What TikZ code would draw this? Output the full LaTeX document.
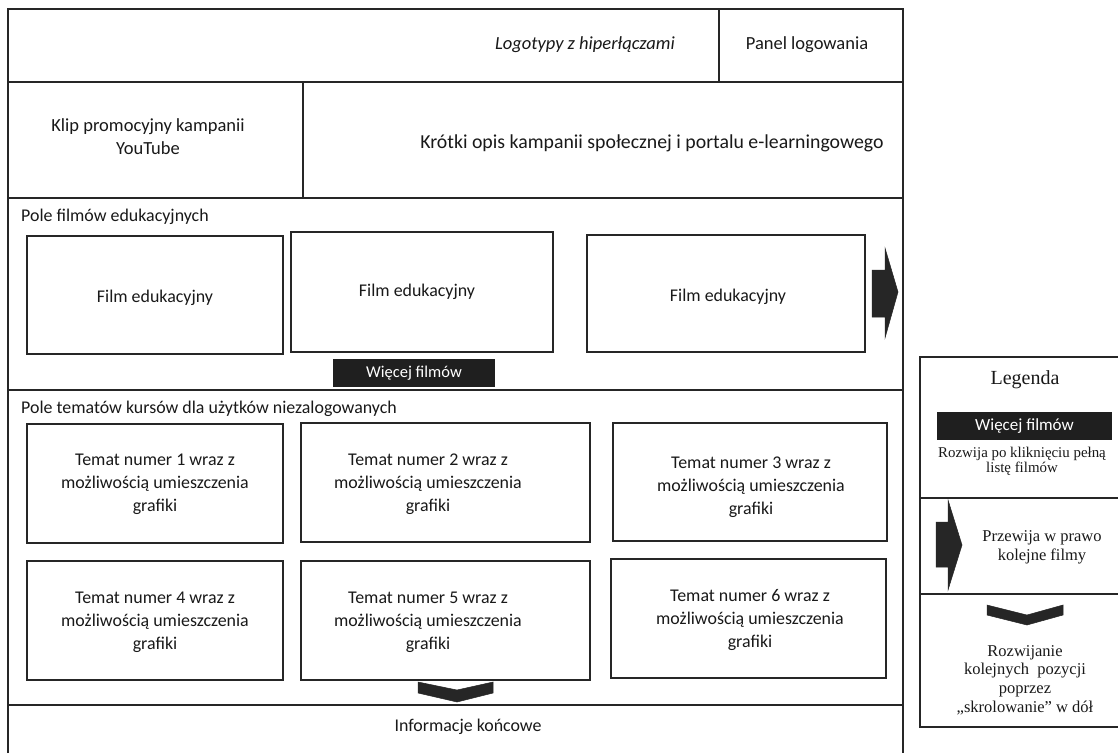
\documentclass[tikz,border=0pt]{standalone}
\usepackage{fontspec}
\setmainfont{Carlito}
\newfontfamily\legfont{Liberation Serif}
\begin{document}
\begin{tikzpicture}[x=1pt,y=-1pt,
  ln/.style={draw=black!85, line width=1.1pt},
  box/.style={draw=black!85, line width=1.1pt, inner sep=0pt},
  txt/.style={font=\fontsize{17.9}{23}\selectfont, align=center, inner sep=0pt, text=black!90},
  btn/.style={fill=black!88, text=white, inner sep=0pt, font=\fontsize{16.5}{18}\selectfont},
  shp/.style={fill=black!85, draw=black!85, line width=0.5pt, line join=miter},
  leg/.style={font=\legfont\fontsize{16}{19}\selectfont, align=center, inner sep=0pt, text=black!90}]
\useasboundingbox (0,0) rectangle (1118,753);
\fill[white] (0,0) rectangle (1118,753);
% main frame
\draw[ln] (8,753) -- (8,9) -- (903,9) -- (903,753);
\draw[ln] (8,82) -- (903,82);
\draw[ln] (8,198) -- (903,198);
\draw[ln] (8,390) -- (903,390);
\draw[ln] (8,705) -- (903,705);
\draw[ln] (719,9) -- (719,82);
\draw[ln] (303,82) -- (303,198);
% header texts
\node[txt, font=\fontsize{18.5}{23}\selectfont\itshape] (logo) at (585,45) {Logotypy z hiperłączami};
\node[txt, font=\fontsize{18.5}{23}\selectfont] (panel) at (807,45) {Panel logowania};
\node[txt, font=\fontsize{18.5}{23}\selectfont] (klip) at (148,137) {Klip promocyjny kampanii\\YouTube};
\node[txt, font=\fontsize{19.8}{23}\selectfont] (opis) at (652,143) {Krótki opis kampanii społecznej i portalu e-learningowego};
% films
\node[txt, anchor=west] (polef) at (21,217) {Pole filmów edukacyjnych};
\node[box, minimum width=256, minimum height=118] (f1) at (155,295) {};
\node[box, minimum width=262, minimum height=120] (f2) at (422,292) {};
\node[box, minimum width=278, minimum height=117] (f3) at (726,293.5) {};
\node[txt] (f1t) at (155,298) {Film edukacyjny};
\node[txt] (f2t) at (417,292) {Film edukacyjny};
\node[txt] (f3t) at (728,297) {Film edukacyjny};
\fill[shp] (872,270) -- (885,270) -- (885,248) -- (898,292) -- (885,338) -- (885,317) -- (872,317) -- cycle;
\node[btn, minimum width=162, minimum height=28] (more) at (414,373) {Więcej filmów};
% topics
\node[txt, anchor=west] (polet) at (21,409) {Pole tematów kursów dla użytków niezalogowanych};
\node[box, minimum width=256, minimum height=119] (t1) at (155,483.5) {};
\node[box, minimum width=289, minimum height=119] (t2) at (445.5,482.5) {};
\node[box, minimum width=274, minimum height=118] (t3) at (750,482) {};
\node[box, minimum width=256, minimum height=119] (t4) at (155,620.5) {};
\node[box, minimum width=289, minimum height=119] (t5) at (445.5,620.5) {};
\node[box, minimum width=275, minimum height=119] (t6) at (748.5,618.5) {};
\node[txt] (t1t) at (155,484.5) {Temat numer 1 wraz z\\możliwością umieszczenia\\grafiki};
\node[txt] (t2t) at (428,484.5) {Temat numer 2 wraz z\\możliwością umieszczenia\\grafiki};
\node[txt] (t3t) at (751,487) {Temat numer 3 wraz z\\możliwością umieszczenia\\grafiki};
\node[txt] (t4t) at (155,622) {Temat numer 4 wraz z\\możliwością umieszczenia\\grafiki};
\node[txt] (t5t) at (428,622) {Temat numer 5 wraz z\\możliwością umieszczenia\\grafiki};
\node[txt] (t6t) at (750,620) {Temat numer 6 wraz z\\możliwością umieszczenia\\grafiki};
\fill[shp] (418,682) -- (457,690) -- (493,682) -- (493,693) -- (457,702) -- (418,693) -- cycle;
\node[txt] (info) at (468,727) {Informacje końcowe};
% legend
\draw[ln] (1120,357) -- (920,357) -- (920,727) -- (1120,727);
\draw[ln] (920,498) -- (1120,498);
\draw[ln] (920,594) -- (1120,594);
\node[leg, font=\legfont\fontsize{20}{22}\selectfont] (legt) at (1025,380) {Legenda};
\node[btn, minimum width=175, minimum height=28, font=\fontsize{17}{18}\selectfont] (lmore) at (1024.5,426) {Więcej filmów};
\node[leg, font=\legfont\fontsize{14.9}{15}\selectfont] (l1) at (1022,461.5) {Rozwija po kliknięciu pełną\\listę filmów};
\fill[shp] (936,522) -- (948,522) -- (948,500) -- (962,545) -- (948,590) -- (948,567) -- (936,567) -- cycle;
\node[leg, font=\legfont\fontsize{16.5}{19}\selectfont] (l2) at (1042,547.5) {Przewija w prawo\\kolejne filmy};
\fill[shp] (987,605) -- (1027,615) -- (1063,605) -- (1063,615) -- (1027,625) -- (987,615) -- cycle;
\node[leg, font=\legfont\fontsize{16.5}{18.7}\selectfont] (l3) at (1025,680) {Rozwijanie\\kolejnych\ \ pozycji\\poprzez\\„skrolowanie” w dół};
\end{tikzpicture}
\end{document}
